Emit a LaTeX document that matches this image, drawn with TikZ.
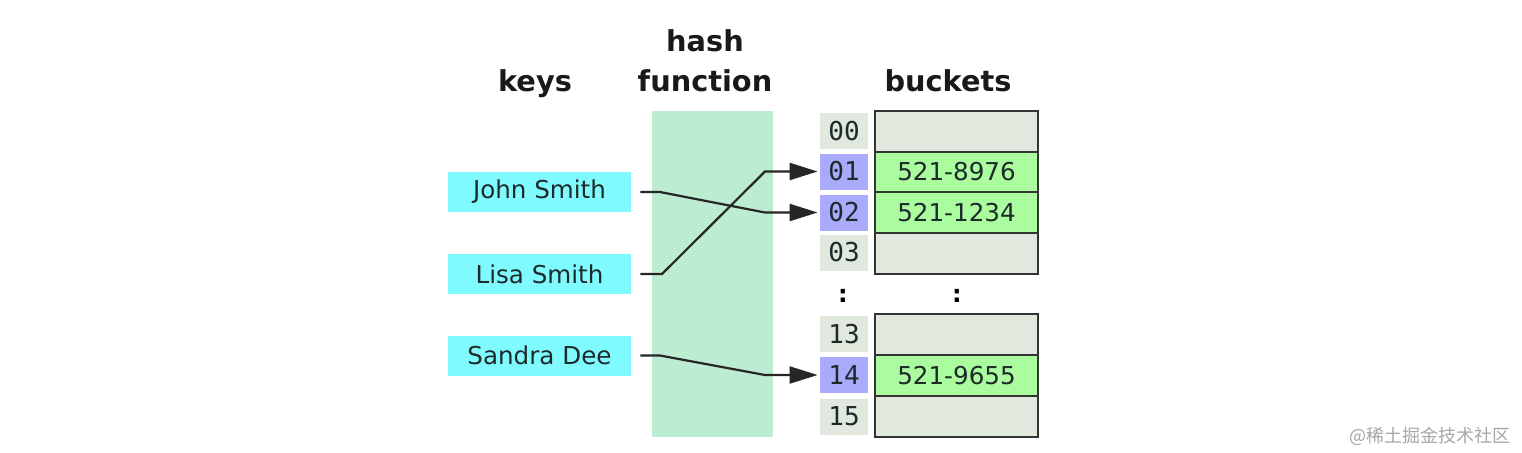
\documentclass[tikz,border=0pt]{standalone}
\usepackage{fontspec}
\setmainfont{DejaVu Sans}
\setmonofont{DejaVu Sans Mono}
\newfontfamily\cjkfont{Noto Sans CJK SC}
\usetikzlibrary{arrows.meta}
\definecolor{keycol}{HTML}{7FFAFF}
\definecolor{hashcol}{HTML}{BCECD2}
\definecolor{idxcol}{HTML}{E1E8DD}
\definecolor{hitcol}{HTML}{A9AAFB}
\definecolor{fullcol}{HTML}{AAFC9E}
\definecolor{txtcol}{HTML}{1C2A2A}
\tikzset{
  keybox/.style={fill=keycol, minimum width=91.5pt, minimum height=20pt, inner sep=0pt, text=txtcol, font=\fontsize{12.3}{14}\selectfont},
  idx/.style={fill=idxcol, minimum width=24pt, minimum height=18pt, inner sep=0pt, text=txtcol, font=\ttfamily\fontsize{13}{15}\selectfont},
  hit/.style={idx, fill=hitcol},
  bucket/.style={draw=black!80, line width=1pt, fill=idxcol, minimum width=81.5pt, minimum height=20.5pt, inner sep=0pt, text=txtcol, font=\fontsize{12.3}{14}\selectfont},
  full/.style={bucket, fill=fullcol},
  title/.style={anchor=base, text=black!90, font=\bfseries\fontsize{14.4}{17}\selectfont},
  conn/.style={line width=1.1pt, black!85, -{Triangle[length=14pt,width=8.5pt]}},
  dots/.style={text=black, font=\bfseries\fontsize{12}{14}\selectfont}
}
\begin{document}
\begin{tikzpicture}[x=0.5pt,y=-0.5pt]
\useasboundingbox (0,0) rectangle (1522,452);
% titles
\node[title] (tkeys) at (535,91) {keys};
\node[title] (thash) at (705,51) {hash};
\node[title] (tfun) at (705,91) {function};
\node[title] (tbuck) at (948,91) {buckets};
% hash function band
\node[fill=hashcol, minimum width=60.5pt, minimum height=163pt, inner sep=0pt] (hf) at (712.5,274) {};
% keys
\node[keybox] (john) at (539.5,192) {John Smith};
\node[keybox] (lisa) at (539.5,274) {Lisa Smith};
\node[keybox] (sandra) at (539.5,355.5) {Sandra Dee};
% indices
\node[idx] (i00) at (844,131) {00};
\node[hit] (i01) at (844,171.5) {01};
\node[hit] (i02) at (844,212.5) {02};
\node[idx] (i03) at (844,252.5) {03};
\node[idx] (i13) at (844,334) {13};
\node[hit] (i14) at (844,375) {14};
\node[idx] (i15) at (844,416.5) {15};
% buckets
\node[bucket] (b00) at (956.5,131) {};
\node[full] (b01) at (956.5,172) {521-8976};
\node[full] (b02) at (956.5,212.5) {521-1234};
\node[bucket] (b03) at (956.5,253) {};
\node[bucket] (b13) at (956.5,334.5) {};
\node[full] (b14) at (956.5,375.5) {521-9655};
\node[bucket] (b15) at (956.5,416.5) {};
% dots
\node[dots] (d1) at (843,296) {:};
\node[dots] (d2) at (957,296) {:};
% connectors
\coordinate (jb) at (660,192);
\coordinate (jc) at (765,212.5);
\coordinate (lb) at (662,274);
\coordinate (lc) at (765,171.5);
\coordinate (sb) at (660,355.5);
\coordinate (sc) at (765,375);
\draw[conn, shorten <=4.5pt, shorten >=1pt] (john.east) -- (jb) -- (jc) -- (i02.west);
\draw[conn, shorten <=4.5pt, shorten >=1pt] (lisa.east) -- (lb) -- (lc) -- (i01.west);
\draw[conn, shorten <=4.5pt, shorten >=1pt] (sandra.east) -- (sb) -- (sc) -- (i14.west);
% watermark
\node[text=black!35, font=\cjkfont\fontsize{9}{11}\selectfont] (wm) at (1430,436) {@稀土掘金技术社区};
\end{tikzpicture}
\end{document}
